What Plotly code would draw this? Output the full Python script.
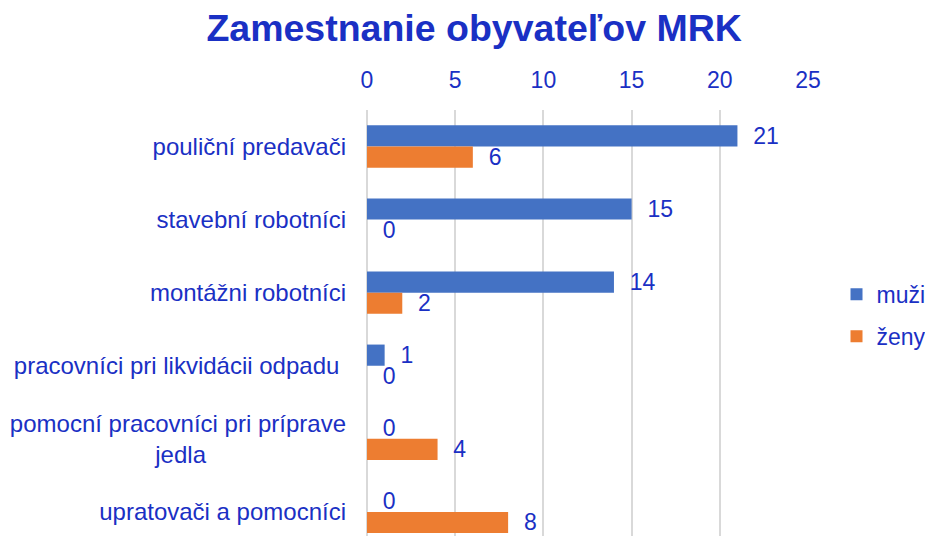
import plotly.graph_objects as go

categories = [
    "pouliční predavači",
    "stavební robotníci",
    "montážni robotníci",
    "pracovníci pri likvidácii odpadu\u00a0",
    "pomocní pracovníci pri príprave<br>jedla" + "\u00a0" * 21,
    "upratovači a pomocníci",
]
muzi = [21, 15, 14, 1, 0, 0]
zeny = [6, 0, 2, 0, 4, 8]
x_ticks = [0, 5, 10, 15, 20, 25]
series_names = ["muži", "ženy"]

TXT = "#1A30C4"
FONT = "Liberation Sans, Arial, sans-serif"
FS = 23
FS_CAT = 24

fig = go.Figure()
fig.add_trace(go.Bar(
    y=categories, x=muzi, name=series_names[0], orientation="h",
    marker=dict(color="#4472C4", line=dict(width=0)),
    text=muzi, texttemplate="\u00a0\u00a0%{x}", textposition="outside",
    constraintext="none",
    textfont=dict(color=TXT, size=FS, family=FONT), cliponaxis=False,
    legendgroup="a",
))
fig.add_trace(go.Bar(
    y=categories, x=zeny, name=series_names[1], orientation="h",
    marker=dict(color="#ED7D31", line=dict(width=0)),
    text=zeny, texttemplate="\u00a0\u00a0%{x}", textposition="outside",
    constraintext="none",
    textfont=dict(color=TXT, size=FS, family=FONT), cliponaxis=False,
    legendgroup="b",
))

# page body has an 8px margin on every side: figure sized so the page does not overflow
fig.update_layout(
    width=917, height=528,
    margin=dict(l=359, r=117, t=102, b=0, autoexpand=False),
    paper_bgcolor="white", plot_bgcolor="white",
    font=dict(family=FONT, color=TXT, size=FS),
    title=dict(text="<b>Zamestnanie obyvateľov MRK</b>", x=0.5083, xanchor="center",
               y=0.962, yanchor="middle", font=dict(size=37.5, color=TXT, family=FONT)),
    barmode="group", bargap=0.42, bargroupgap=0,
    showlegend=True,
    legend=dict(xref="container", x=0.9035, yref="container", y=0.418,
                xanchor="left", yanchor="middle",
                traceorder="grouped", tracegroupgap=9, borderwidth=0,
                bgcolor="rgba(0,0,0,0)",
                font=dict(size=FS, color=TXT, family=FONT),
                itemwidth=30),
)
fig.update_xaxes(
    side="top", range=[0, 25], tickvals=x_ticks, ticktext=[str(v) for v in x_ticks],
    showgrid=True, gridcolor="#D9D9D9", gridwidth=1.5,
    zeroline=True, zerolinecolor="#D9D9D9", zerolinewidth=1.5,
    showline=False, ticks="", ticklabelstandoff=16,
    tickfont=dict(size=FS, color=TXT, family=FONT), fixedrange=True,
)
fig.update_yaxes(
    type="category", range=[5.33, -0.5], showgrid=False, zeroline=False,
    showline=False, ticks="", ticklabelstandoff=20,
    tickfont=dict(size=FS_CAT, color=TXT, family=FONT),
)

fig.write_html("out.html")
